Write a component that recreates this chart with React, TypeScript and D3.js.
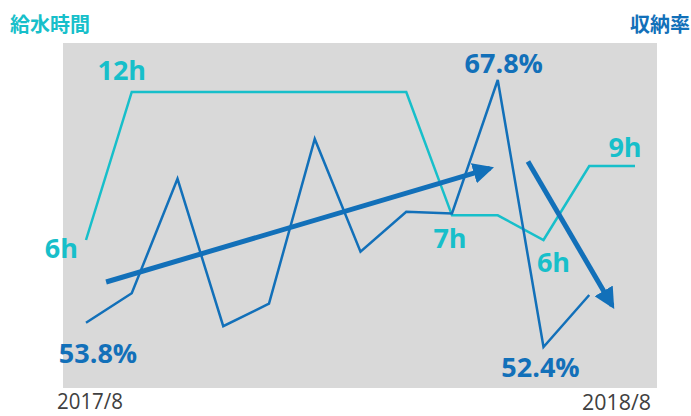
import React from "react";
import * as d3 from "d3";

const months = ["2017/8","2017/9","2017/10","2017/11","2017/12","2018/1","2018/2","2018/3","2018/4","2018/5","2018/6","2018/7","2018/8"];
const hours = [6, 12, 12, 12, 12, 12, 12, 12, 7, 7, 6, 9, 9];
const rate = [53.8, 55.5, 62.1, 53.6, 54.9, 64.4, 57.9, 60.2, 60.1, 67.8, 52.4, 55.4];
const xTickLabels = ["2017/8", "2018/8"];
// annotation labels: [index, text]
const hourLabels: [number, string][] = [[0, "6h"], [1, "12h"], [8, "7h"], [10, "6h"], [12, "9h"]];
const rateLabels: [number, string][] = [[0, "53.8%"], [9, "67.8%"], [10, "52.4%"]];
// trend arrows in data space: [fromIndex, fromRate, toIndex, toRate]
const trendArrows: [number, number, number, number][] = [[0.44, 56.15, 8.83, 62.7], [9.66, 63.1, 11.5, 54.8]];

const W = 691, H = 416;
const CYAN = "#17bfca";
const BLUE = "#1270b9";

export default function App() {
  const x = d3.scaleLinear().domain([0, 12]).range([86, 635]);
  const yR = d3.scaleLinear().domain([52.4, 67.8]).range([347, 80]);
  const yH = d3.scaleLinear().domain([6, 12]).range([240, 92]);

  const hourLine = d3.line<number>().x((_, i) => x(i)).y(d => yH(d))(hours) || "";
  const rateLine = d3.line<number>().x((_, i) => x(i)).y(d => yR(d))(rate) || "";

  const hourOff: Record<string, [number, number, string]> = {
    "0": [-8, 18, "end"], "1": [-10, -12, "middle"], "8": [-2, 33, "middle"], "10": [10, 32, "middle"], "12": [-10, -9, "middle"],
  };
  const rateOff: Record<string, [number, number]> = {
    "0": [12, 40], "9": [6, -7], "10": [-3, 30],
  };

  const bold = { fontFamily: "'Open Sans', 'Noto Sans', sans-serif", fontWeight: 700, fontSize: 27 } as const;
  const tick = { fontFamily: "'Open Sans', sans-serif", fontSize: 21 } as const;

  return (
    <svg width={W} height={H} style={{ position: "absolute", left: 0, top: 0 }}>
      <defs>
        <marker id="ah" viewBox="0 0 10 10" refX="8" refY="5" markerWidth="4.2" markerHeight="4.2" orient="auto" markerUnits="strokeWidth">
          <path d="M0,0 L10,5 L0,10 z" fill={BLUE} />
        </marker>
      </defs>
      <rect x={63} y={43} width={594} height={345} fill="#d9d9d9" />
      <text x={10} y={32} fill={CYAN} style={{ fontFamily: "'Noto Sans CJK JP', sans-serif", fontWeight: 700, fontSize: 20 }}>給水時間</text>
      <text x={690} y={32} textAnchor="end" fill={BLUE} style={{ fontFamily: "'Noto Sans CJK JP', sans-serif", fontWeight: 700, fontSize: 20 }}>収納率</text>

      <path d={hourLine} fill="none" stroke={CYAN} strokeWidth={2.5} strokeLinejoin="miter" />
      <path d={rateLine} fill="none" stroke={BLUE} strokeWidth={2.5} strokeLinejoin="miter" />

      {trendArrows.map((a, i) => (
        <line key={i} x1={x(a[0])} y1={yR(a[1])} x2={x(a[2])} y2={yR(a[3])} stroke={BLUE} strokeWidth={5} markerEnd="url(#ah)" />
      ))}

      {hourLabels.map(([i, t]) => {
        const o = hourOff[String(i)];
        return <text key={"h" + i} x={x(i) + o[0]} y={yH(hours[i]) + o[1]} textAnchor={o[2] as any} fill={CYAN} style={bold}>{t}</text>;
      })}
      {rateLabels.map(([i, t]) => {
        const o = rateOff[String(i)];
        return <text key={"r" + i} x={x(i) + o[0]} y={yR(rate[i]) + o[1]} textAnchor="middle" fill={BLUE} style={bold}>{t}</text>;
      })}

      <text x={57} y={409} textLength={66} lengthAdjust="spacingAndGlyphs" fill="#404040" style={tick}>{xTickLabels[0]}</text>
      <text x={582} y={410} textLength={69} lengthAdjust="spacingAndGlyphs" fill="#404040" style={tick}>{xTickLabels[1]}</text>
    </svg>
  );
}
